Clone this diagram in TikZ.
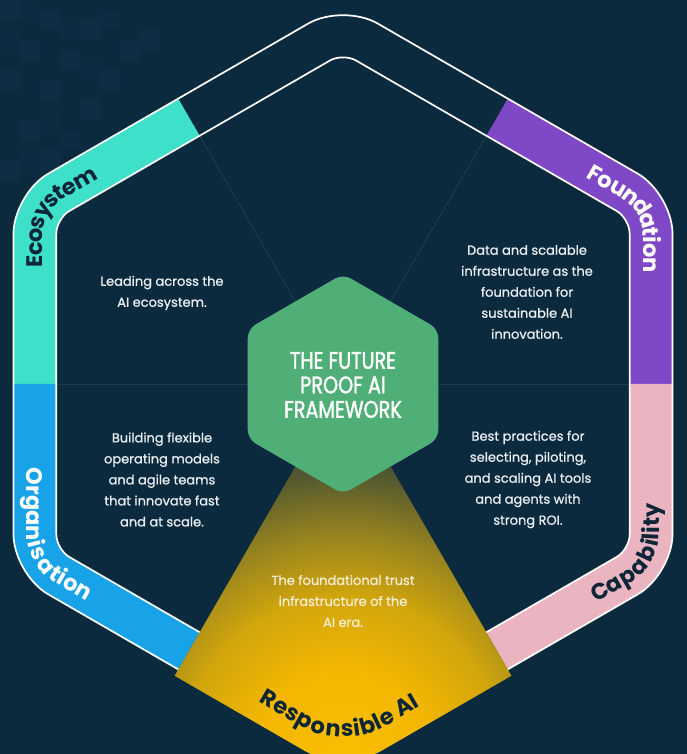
\documentclass[tikz,border=0pt]{standalone}
\usepackage{fontspec}
\setmainfont{Poppins}
\newfontfamily\titlefont{Poppins}[FakeStretch=0.8,FakeBold=1.6]
\newfontfamily\bodyfont{Poppins}[FakeBold=1.0]
\usetikzlibrary{decorations.text}
\definecolor{bg}{HTML}{0B2A3E}
\definecolor{bgsq}{HTML}{0D2E44}
\definecolor{bgsqb}{HTML}{0C2C41}
\definecolor{faint}{HTML}{1E3C51}
\definecolor{cteal}{HTML}{3FE0C9}
\definecolor{cblue}{HTML}{18A3E8}
\definecolor{cpurple}{HTML}{7E48C6}
\definecolor{cpink}{HTML}{EAB5C0}
\definecolor{cgreen}{HTML}{4FAF76}
\definecolor{cdark}{HTML}{0C2537}
\definecolor{bodytxt}{HTML}{E8EDF0}
\definecolor{creamtxt}{HTML}{F2ECD2}
\definecolor{y0}{HTML}{F9BE00}
\definecolor{y1}{HTML}{F3B702}
\definecolor{y2}{HTML}{D2A60C}
\definecolor{y3}{HTML}{958320}
\definecolor{y4}{HTML}{55592F}
\definecolor{y5}{HTML}{2A3E3B}
% circle radius 360pt -> 25bp ; 1bp = 14.4pt
\pgfdeclareradialshading{yglow}{\pgfpoint{0bp}{0bp}}{color(0bp)=(y0); color(6bp)=(y1); color(11bp)=(y2); color(15.5bp)=(y3); color(19.5bp)=(y4); color(23.5bp)=(y5); color(25bp)=(y5); color(50bp)=(y5)}
\newcommand\hexpath[1]{(0:{0.8660254*#1}) -- (30:#1) -- (90:#1) -- (150:#1) -- (210:#1) -- (270:#1) -- (330:#1) -- cycle}
\newcommand\ringpath{[rounded corners=40pt] \hexpath{380.5} [rounded corners=15pt] \hexpath{331}}
\newcommand\lblfmt{\fontsize{22.5pt}{22.5pt}\selectfont\bfseries}
\tikzset{
  bodytext/.style={align=center, text=bodytxt, font=\bodyfont\fontsize{13pt}{21pt}\selectfont},
  divider/.style={draw=faint, line width=0.9pt},
  outline/.style={draw=white, line width=1.7pt},
  bandlabel/.style={decorate, decoration={text along path, text align=left, raise=-8pt, text={#1}}}
}
\begin{document}
\begin{tikzpicture}[x=1pt,y=1pt]
% background
\path[use as bounding box, fill=bg] (-343,-370) rectangle (344,384);
\foreach \sx/\sy in {-343/384,-303/374,-263/364,-323/344,-283/334,-223/344,-343/314,-303/304,-243/314,-203/354,-263/284,-323/264,-343/224,-303/234}
  \fill[bgsq] (\sx,\sy) rectangle ++(20,-20);
\foreach \sx/\sy in {-323/384,-283/364,-243/374,-343/354,-263/324,-303/274,-323/234,-283/254}
  \fill[bgsqb] (\sx,\sy) rectangle ++(20,-20);
% faint dividers
\draw[divider] (0,0) -- (120:286.5);
\draw[divider] (0,0) -- (60:286.5);
\draw[divider] (0,0) -- (180:286.5);
\draw[divider] (0,0) -- (0:286.5);
% coloured band segments
\begin{scope}
  \clip (0,0) -- (120:600) -- (150:700) -- (180:600) -- cycle;
  \fill[cteal, even odd rule] \ringpath;
\end{scope}
\begin{scope}
  \clip (0,0) -- (180:600) -- (210:700) -- (240:600) -- cycle;
  \fill[cblue, even odd rule] \ringpath;
\end{scope}
\begin{scope}
  \clip (0,0) -- (0:600) -- (30:700) -- (60:600) -- cycle;
  \fill[cpurple, even odd rule] \ringpath;
\end{scope}
\begin{scope}
  \clip (0,0) -- (300:600) -- (330:700) -- (360:600) -- cycle;
  \fill[cpink, even odd rule] \ringpath;
\end{scope}
% white outlines
\draw[outline, rounded corners=40pt] \hexpath{380.5};
\draw[outline, rounded corners=15pt] \hexpath{331};
% responsible AI wedge
\begin{scope}
  \clip (0,0) -- (240:700) -- (270:800) -- (300:700) -- cycle;
  \clip[rounded corners=45pt] \hexpath{389};
  \shade[shading=yglow] (0,-372) circle (360);
\end{scope}
% central hexagon
\fill[cgreen, rounded corners=9pt] \hexpath{110};
\node[align=center, text=white, font=\titlefont\fontsize{24pt}{24.5pt}\selectfont] (title) at (0,-1) {THE FUTURE\\PROOF AI\\FRAMEWORK};
% body texts
\node[bodytext] (ecotext) at (-181,91) {Leading across the\\AI ecosystem.};
\node[bodytext] (foundtext) at (184,92) {Data and scalable\\infrastructure as the\\foundation for\\sustainable AI\\innovation.};
\node[bodytext] (orgtext) at (-181,-95.5) {Building flexible\\operating models\\and agile teams\\that innovate fast\\and at scale.};
\node[bodytext] (captext) at (185,-95.5) {Best practices for\\selecting, piloting,\\and scaling AI tools\\and agents with\\strong ROI.};
\node[bodytext, text=creamtxt] (resptext) at (0,-217) {The foundational trust\\infrastructure of the\\AI era.};
% band labels
\path[bandlabel={|\lblfmt\color{cdark}|Ecosystem}, rounded corners=27pt] (-308,116) -- (150:355.7) -- (90:355.7);
\path[bandlabel={|\lblfmt\color{white}|Foundation}, rounded corners=27pt] (246,213.6) -- (30:355.7) -- (308,-60);
\path[bandlabel={|\lblfmt\color{white}|Organisation}, rounded corners=27pt] (-308,-84) -- (210:355.7) -- (270:355.7);
\path[bandlabel={|\lblfmt\color{cdark}|Capability}, rounded corners=27pt] (249,-212) -- (330:355.7) -- (308,60);
\path[bandlabel={|\lblfmt\color{cdark}|Responsible AI}, rounded corners=45pt] (-80,-311) -- (270:358) -- (140,-276.5);
\end{tikzpicture}
\end{document}
